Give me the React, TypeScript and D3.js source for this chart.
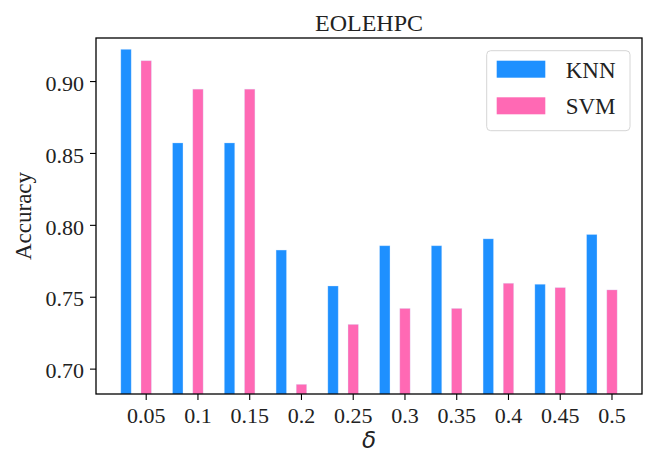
import React from "react";
import * as d3 from "d3";

const deltas = ["0.05", "0.1", "0.15", "0.2", "0.25", "0.3", "0.35", "0.4", "0.45", "0.5"];
const knn = [0.9224, 0.8573, 0.8573, 0.7828, 0.7578, 0.7858, 0.7858, 0.7906, 0.759, 0.7936];
const svm = [0.9145, 0.8947, 0.8947, 0.6894, 0.7311, 0.7422, 0.7422, 0.7597, 0.7567, 0.7551];
const yTicks = [0.7, 0.75, 0.8, 0.85, 0.9];
const series = [
  { name: "KNN", values: knn, color: "#1E90FF", offset: -0.39 },
  { name: "SVM", values: svm, color: "#FF69B4", offset: 0 },
];

const W = 649;
const H = 455;
const M = { left: 96, right: 642, top: 38, bottom: 394 };
const FONT = "'Liberation Serif', serif";

export default function App() {
  const x = d3.scaleLinear().domain([-0.97, 9.58]).range([M.left, M.right]);
  const y = d3.scaleLinear().domain([0.6827, 0.9303]).range([M.bottom, M.top]);
  const bw = x(0.2) - x(0);

  return (
    <svg width={W} height={H} style={{ position: "absolute", left: 0, top: 0, background: "#fff" }}>
      {/* bars */}
      {series.map((s) => (
        <g key={s.name}>
          {s.values.map((v, i) => (
            <rect
              key={i}
              x={x(i + s.offset) - bw / 2}
              y={y(v)}
              width={bw}
              height={M.bottom - y(v)}
              fill={s.color}
              stroke="#cfe6ff"
              strokeOpacity={0.35}
              strokeWidth={0.8}
            />
          ))}
        </g>
      ))}

      {/* frame */}
      <rect x={M.left} y={M.top} width={M.right - M.left} height={M.bottom - M.top}
        fill="none" stroke="#000" strokeWidth={1.3} />

      {/* y axis */}
      {yTicks.map((t) => (
        <g key={t} transform={`translate(${M.left},${y(t)})`}>
          <line x1={-6} x2={0} stroke="#000" strokeWidth={1.1} />
          <text x={-12} dy="0.42em" textAnchor="end" fontFamily={FONT} fontSize={22} fill="#222">
            {d3.format(".2f")(t)}
          </text>
        </g>
      ))}

      {/* x axis */}
      {deltas.map((d, i) => (
        <g key={d} transform={`translate(${x(i)},${M.bottom})`}>
          <line y1={0} y2={6} stroke="#000" strokeWidth={1.1} />
          <text y={29} textAnchor="middle" fontFamily={FONT} fontSize={22} fill="#222">
            {d}
          </text>
        </g>
      ))}

      {/* labels */}
      <text x={(M.left + M.right) / 2} y={31} textAnchor="middle" fontFamily={FONT} fontSize={24} fill="#222">
        EOLEHPC
      </text>
      <text transform={`translate(31,${(M.top + M.bottom) / 2}) rotate(-90)`} textAnchor="middle"
        fontFamily={FONT} fontSize={23} fill="#222">
        Accuracy
      </text>
      <text x={(M.left + M.right) / 2} y={448} textAnchor="middle" fontFamily="'DejaVu Sans', sans-serif"
        fontStyle="italic" fontSize={23} fill="#222">
        δ
      </text>

      {/* legend */}
      <g>
        <rect x={486.7} y={50.7} width={143.3} height={80} rx={4} fill="#fff" fillOpacity={0.8}
          stroke="#d6d6d6" strokeWidth={1} />
        {series.map((s, i) => (
          <g key={s.name} transform={`translate(496.7,${60.7 + i * 36.6})`}>
            <rect width={48.6} height={17} fill={s.color} />
            <text x={69} y={17} fontFamily={FONT} fontSize={23} fill="#222">{s.name}</text>
          </g>
        ))}
      </g>
    </svg>
  );
}
